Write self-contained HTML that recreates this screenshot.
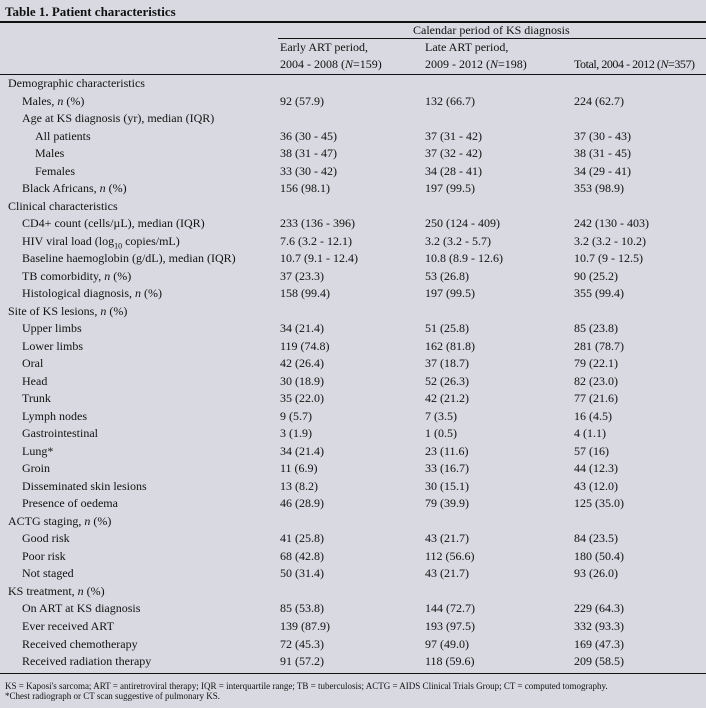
<!DOCTYPE html>
<html><head><meta charset="utf-8"><style>
body{margin:0;width:706px;height:708px;background:#d9dae1;font-family:"Liberation Serif",serif;color:#111;overflow:hidden;position:relative}
.t{position:absolute;left:5px;top:4px;font-weight:bold;font-size:13px}
.hl{position:absolute;background:#111}
.h{position:absolute;font-size:12px;white-space:nowrap}
#rows{position:absolute;left:0;top:75px;width:706px}
.r{position:relative;height:17.52px;line-height:17.52px;font-size:12px;white-space:nowrap}
.r span{position:absolute}
.l0{left:8px}.l1{left:22px}.l2{left:35px}
.c1{left:280px}.c2{left:425px}.c3{left:574px}
.fn{position:absolute;left:5px;font-size:9px;white-space:nowrap}
</style></head><body>
<div class="t">Table 1. Patient characteristics</div>
<div class="hl" style="left:0;top:21px;width:706px;height:2px"></div>
<div class="h" style="left:413px;top:23px">Calendar period of KS diagnosis</div>
<div class="hl" style="left:278px;top:38px;width:428px;height:1px"></div>
<div class="h" style="left:280px;top:40px">Early ART period,</div>
<div class="h" style="left:280px;top:57px">2004 - 2008 (<i>N</i>=159)</div>
<div class="h" style="left:425px;top:40px">Late ART period,</div>
<div class="h" style="left:425px;top:57px">2009 - 2012 (<i>N</i>=198)</div>
<div class="h" style="left:574px;top:57px;letter-spacing:-0.45px">Total, 2004 - 2012 (<i>N</i>=357)</div>
<div class="hl" style="left:0;top:74px;width:706px;height:1px"></div>
<div id="rows">
<div class="r"><span class="l0">Demographic characteristics</span></div>
<div class="r"><span class="l1">Males, <i>n</i> (%)</span><span class="c1">92 (57.9)</span><span class="c2">132 (66.7)</span><span class="c3">224 (62.7)</span></div>
<div class="r"><span class="l1">Age at KS diagnosis (yr), median (IQR)</span></div>
<div class="r"><span class="l2">All patients</span><span class="c1">36 (30 - 45)</span><span class="c2">37 (31 - 42)</span><span class="c3">37 (30 - 43)</span></div>
<div class="r"><span class="l2">Males</span><span class="c1">38 (31 - 47)</span><span class="c2">37 (32 - 42)</span><span class="c3">38 (31 - 45)</span></div>
<div class="r"><span class="l2">Females</span><span class="c1">33 (30 - 42)</span><span class="c2">34 (28 - 41)</span><span class="c3">34 (29 - 41)</span></div>
<div class="r"><span class="l1">Black Africans, <i>n</i> (%)</span><span class="c1">156 (98.1)</span><span class="c2">197 (99.5)</span><span class="c3">353 (98.9)</span></div>
<div class="r"><span class="l0">Clinical characteristics</span></div>
<div class="r"><span class="l1">CD4+ count (cells/µL), median (IQR)</span><span class="c1">233 (136 - 396)</span><span class="c2">250 (124 - 409)</span><span class="c3">242 (130 - 403)</span></div>
<div class="r"><span class="l1">HIV viral load (log<sub style="font-size:8px">10</sub> copies/mL)</span><span class="c1">7.6 (3.2 - 12.1)</span><span class="c2">3.2 (3.2 - 5.7)</span><span class="c3">3.2 (3.2 - 10.2)</span></div>
<div class="r"><span class="l1">Baseline haemoglobin (g/dL), median (IQR)</span><span class="c1">10.7 (9.1 - 12.4)</span><span class="c2">10.8 (8.9 - 12.6)</span><span class="c3">10.7 (9 - 12.5)</span></div>
<div class="r"><span class="l1">TB comorbidity, <i>n</i> (%)</span><span class="c1">37 (23.3)</span><span class="c2">53 (26.8)</span><span class="c3">90 (25.2)</span></div>
<div class="r"><span class="l1">Histological diagnosis, <i>n</i> (%)</span><span class="c1">158 (99.4)</span><span class="c2">197 (99.5)</span><span class="c3">355 (99.4)</span></div>
<div class="r"><span class="l0">Site of KS lesions, <i>n</i> (%)</span></div>
<div class="r"><span class="l1">Upper limbs</span><span class="c1">34 (21.4)</span><span class="c2">51 (25.8)</span><span class="c3">85 (23.8)</span></div>
<div class="r"><span class="l1">Lower limbs</span><span class="c1">119 (74.8)</span><span class="c2">162 (81.8)</span><span class="c3">281 (78.7)</span></div>
<div class="r"><span class="l1">Oral</span><span class="c1">42 (26.4)</span><span class="c2">37 (18.7)</span><span class="c3">79 (22.1)</span></div>
<div class="r"><span class="l1">Head</span><span class="c1">30 (18.9)</span><span class="c2">52 (26.3)</span><span class="c3">82 (23.0)</span></div>
<div class="r"><span class="l1">Trunk</span><span class="c1">35 (22.0)</span><span class="c2">42 (21.2)</span><span class="c3">77 (21.6)</span></div>
<div class="r"><span class="l1">Lymph nodes</span><span class="c1">9 (5.7)</span><span class="c2">7 (3.5)</span><span class="c3">16 (4.5)</span></div>
<div class="r"><span class="l1">Gastrointestinal</span><span class="c1">3 (1.9)</span><span class="c2">1 (0.5)</span><span class="c3">4 (1.1)</span></div>
<div class="r"><span class="l1">Lung*</span><span class="c1">34 (21.4)</span><span class="c2">23 (11.6)</span><span class="c3">57 (16)</span></div>
<div class="r"><span class="l1">Groin</span><span class="c1">11 (6.9)</span><span class="c2">33 (16.7)</span><span class="c3">44 (12.3)</span></div>
<div class="r"><span class="l1">Disseminated skin lesions</span><span class="c1">13 (8.2)</span><span class="c2">30 (15.1)</span><span class="c3">43 (12.0)</span></div>
<div class="r"><span class="l1">Presence of oedema</span><span class="c1">46 (28.9)</span><span class="c2">79 (39.9)</span><span class="c3">125 (35.0)</span></div>
<div class="r"><span class="l0">ACTG staging, <i>n</i> (%)</span></div>
<div class="r"><span class="l1">Good risk</span><span class="c1">41 (25.8)</span><span class="c2">43 (21.7)</span><span class="c3">84 (23.5)</span></div>
<div class="r"><span class="l1">Poor risk</span><span class="c1">68 (42.8)</span><span class="c2">112 (56.6)</span><span class="c3">180 (50.4)</span></div>
<div class="r"><span class="l1">Not staged</span><span class="c1">50 (31.4)</span><span class="c2">43 (21.7)</span><span class="c3">93 (26.0)</span></div>
<div class="r"><span class="l0">KS treatment, <i>n</i> (%)</span></div>
<div class="r"><span class="l1">On ART at KS diagnosis</span><span class="c1">85 (53.8)</span><span class="c2">144 (72.7)</span><span class="c3">229 (64.3)</span></div>
<div class="r"><span class="l1">Ever received ART</span><span class="c1">139 (87.9)</span><span class="c2">193 (97.5)</span><span class="c3">332 (93.3)</span></div>
<div class="r"><span class="l1">Received chemotherapy</span><span class="c1">72 (45.3)</span><span class="c2">97 (49.0)</span><span class="c3">169 (47.3)</span></div>
<div class="r"><span class="l1">Received radiation therapy</span><span class="c1">91 (57.2)</span><span class="c2">118 (59.6)</span><span class="c3">209 (58.5)</span></div>
</div>
<div class="hl" style="left:0;top:673px;width:706px;height:1px"></div>
<div class="fn" style="top:681px">KS = Kaposi's sarcoma; ART = antiretroviral therapy; IQR = interquartile range; TB = tuberculosis; ACTG = AIDS Clinical Trials Group; CT = computed tomography.</div>
<div class="fn" style="top:691px">*Chest radiograph or CT scan suggestive of pulmonary KS.</div>
</body></html>
